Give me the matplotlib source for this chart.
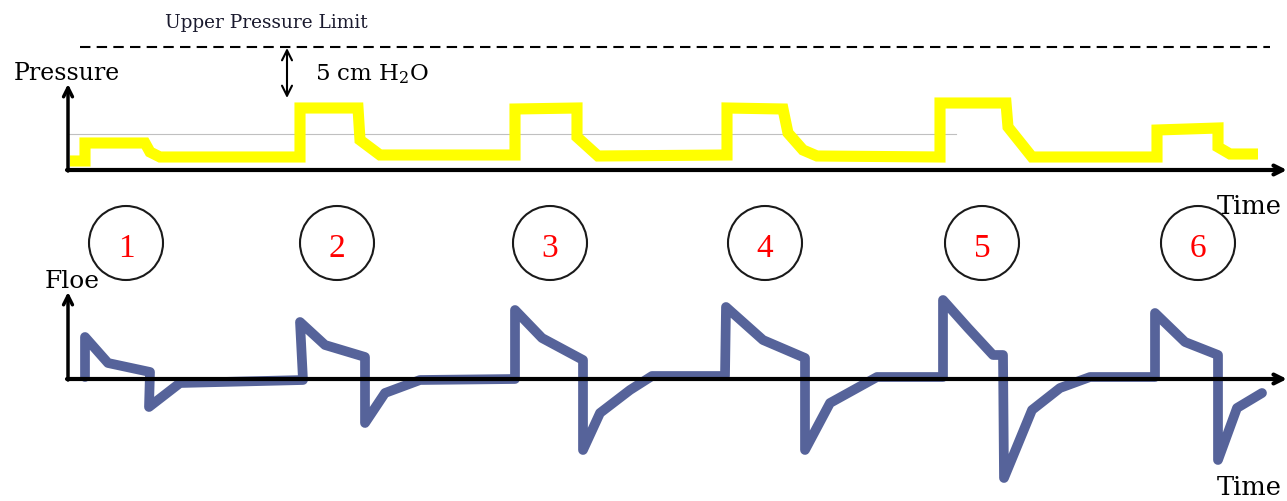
import numpy as np
import matplotlib.pyplot as plt
from matplotlib.patches import Circle, FancyArrowPatch

plt.rcParams['font.family'] = ['DejaVu Serif', 'Liberation Serif']
plt.rcParams['mathtext.default'] = 'regular'

# Pressure waveform: time vs pressure above baseline
p_time = [2, 17, 17, 77, 82, 92, 232, 232, 290, 292, 312, 447, 447, 509, 509, 530,
          659, 659, 715, 720, 735, 749, 872, 872, 938, 940, 964, 1089, 1089, 1150,
          1150, 1162, 1190]
p_value = [9, 9, 27, 27, 18, 13, 13, 62, 62, 30, 15, 15, 61, 62, 33, 14,
           15, 62, 61, 37, 20, 14, 13, 67, 67, 43, 13, 13, 40, 42,
           23, 16, 16]

# Flow waveform: time vs flow (positive = inspiration)
f_time = [17, 17, 40, 82, 81, 112, 235, 232, 257, 297, 297, 317, 352, 447, 447,
          474, 515, 515, 532, 562, 584, 657, 658, 695, 737, 737, 762, 809, 875,
          875, 900, 925, 935, 936, 964, 992, 1022, 1087, 1087, 1117, 1150, 1150,
          1169, 1194]
f_value = [2, 42, 16, 7, -28, -4, -1, 57, 34, 22, -44, -14, -1, 0, 69,
           41, 19, -71, -34, -11, 3, 3, 72, 39, 21, -71, -24, 2, 2,
           79, 51, 24, 24, -99, -31, -9, 2, 2, 66, 37, 24, -81,
           -29, -14]

breath_labels = ['1', '2', '3', '4', '5', '6']
breath_time = [58, 269, 482, 697, 914, 1130]

# layout (pixels)
W, H = 1287, 501
X0 = 68          # time origin
P_BASE = 170     # pressure axis
F_BASE = 379     # flow axis
LIMIT_Y = 47     # upper pressure limit line
CIRCLE_Y = 243

fig = plt.figure(figsize=(W / 100, H / 100), dpi=100)
ax = fig.add_axes([0, 0, 1, 1])
ax.set_xlim(0, W)
ax.set_ylim(H, 0)
ax.axis('off')

# faint guide line
ax.plot([X0, 956], [134, 134], color='#c0c0c0', lw=0.8, zorder=1)

# waveforms
ax.plot(X0 + np.array(p_time), P_BASE - np.array(p_value), color='#ffff00',
        lw=8, solid_joinstyle='miter', solid_capstyle='butt', zorder=2)
ax.plot(X0 + np.array(f_time), F_BASE - np.array(f_value), color='#56639a',
        lw=7, solid_joinstyle='round', solid_capstyle='round', zorder=2)

# axes arrows
def arrow(x1, y1, x2, y2, lw=2.5, style='->', ms=16):
    ax.add_patch(FancyArrowPatch((x1, y1), (x2, y2), arrowstyle=style,
                                 mutation_scale=ms, lw=lw, color='black',
                                 shrinkA=0, shrinkB=0, zorder=3))

arrow(X0 - 1, P_BASE, 1287, P_BASE, lw=3)
arrow(X0, P_BASE + 1, X0, 84, lw=2.5)
arrow(X0 - 1, F_BASE, 1287, F_BASE, lw=3)
arrow(X0, F_BASE + 1, X0, 292, lw=2.5)

# upper pressure limit
ax.plot([80, 1270], [LIMIT_Y, LIMIT_Y], color='black', lw=1.5,
        dashes=(5, 3), zorder=3)
arrow(287, LIMIT_Y + 1, 287, 98, lw=1.5, style='<->', ms=18)
ax.text(165, 28, 'Upper Pressure Limit', fontsize=13.3, ha='left',
        va='baseline', color='#1a1a2e')
ax.text(315, 80, '5 cm H$_2$O', fontsize=16.5, ha='left', va='baseline')

# labels
ax.text(14, 80, 'Pressure', fontsize=17, ha='left', va='baseline')
ax.text(45, 288, 'Floe', fontsize=18, ha='left', va='baseline')
ax.text(1217, 214, 'Time', fontsize=18.5, ha='left', va='baseline')
ax.text(1217, 495, 'Time', fontsize=18.5, ha='left', va='baseline')

# breath numbers
for t, lab in zip(breath_time, breath_labels):
    ax.add_patch(Circle((X0 + t, CIRCLE_Y), 37, fill=False,
                        edgecolor='#1a1a1a', lw=1.5, zorder=3))
    ax.text(X0 + t, 257, lab, fontsize=24, color='#ff0000',
            family='Liberation Serif', ha='center', va='baseline', zorder=4)

fig.savefig('out.png', dpi=100)
